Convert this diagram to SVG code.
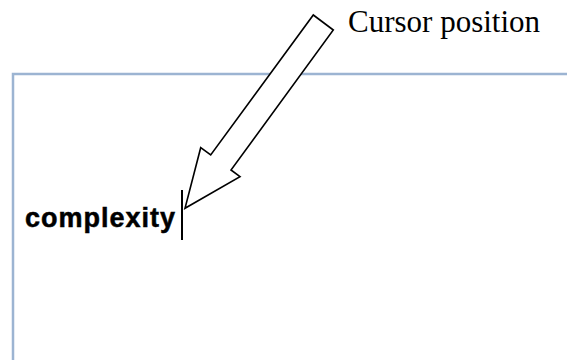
<svg xmlns="http://www.w3.org/2000/svg" width="567" height="360" viewBox="0 0 567 360">
<style>
.box{fill:#ffffff;stroke:#9cb4d2;stroke-width:2.5}
.arrow{fill:#ffffff;stroke:#000000;stroke-width:1.6;stroke-linejoin:miter}
.word{font-family:"Liberation Sans",Arial,sans-serif;font-weight:bold;font-size:27px;fill:#000;stroke:#000;stroke-width:0.5}
.label{font-family:"Liberation Serif","Times New Roman",serif;font-size:31px;fill:#000}
</style>
<rect width="567" height="360" fill="#ffffff"/>
<g id="editor">
<rect class="box" x="13" y="74" width="600" height="320"/>
<text class="word" x="25" y="227" letter-spacing="1">complexity</text>
<line x1="182" y1="190" x2="182" y2="240" stroke="#000" stroke-width="2"/>
</g>
<g id="connectors">
<polygon class="arrow" points="313.3,15 333.3,30 231,170 240,176.7 185,208.3 200.7,147.7 210.7,155"/>
</g>
<g id="label">
<text class="label" x="348" y="32">Cursor position</text>
</g>
</svg>
